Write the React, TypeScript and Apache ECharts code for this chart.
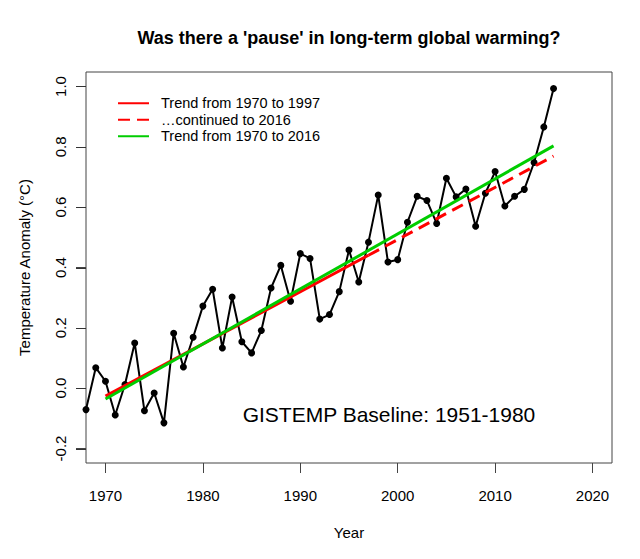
import React, { useEffect, useRef } from "react";
import * as echarts from "echarts";

const years = [
  1968, 1969, 1970, 1971, 1972, 1973, 1974, 1975, 1976, 1977, 1978, 1979,
  1980, 1981, 1982, 1983, 1984, 1985, 1986, 1987, 1988, 1989, 1990, 1991,
  1992, 1993, 1994, 1995, 1996, 1997, 1998, 1999, 2000, 2001, 2002, 2003,
  2004, 2005, 2006, 2007, 2008, 2009, 2010, 2011, 2012, 2013, 2014, 2015, 2016,
];
const anomalies = [
  -0.071, 0.068, 0.023, -0.089, 0.012, 0.15, -0.075, -0.016, -0.115, 0.182, 0.07, 0.169,
  0.272, 0.328, 0.133, 0.302, 0.154, 0.117, 0.191, 0.332, 0.407, 0.288, 0.446, 0.43,
  0.229, 0.244, 0.32, 0.458, 0.352, 0.484, 0.64, 0.418, 0.426, 0.55, 0.636, 0.622,
  0.546, 0.696, 0.634, 0.66, 0.537, 0.646, 0.718, 0.604, 0.636, 0.659, 0.748, 0.866, 0.993,
];
const xTicks = [1970, 1980, 1990, 2000, 2010, 2020];
const yTicks = [-0.2, 0.0, 0.2, 0.4, 0.6, 0.8, 1.0];
const yTickMin = -0.2;
const yTickMax = 1.0;
const yTickStep = 0.2;
const trendNames = ["Trend from 1970 to 1997", "\u2026continued to 2016", "Trend from 1970 to 2016"];
const trendStart = 1970;
const trendBreak = 1997;
const trendEnd = 2016;
const xMin = 1968;
const xMax = 2022;

function fitTrend(from: number, to: number) {
  const xs: number[] = [];
  const ys: number[] = [];
  years.forEach((y, i) => {
    if (y >= from && y <= to) {
      xs.push(y);
      ys.push(anomalies[i]);
    }
  });
  const n = xs.length;
  const mx = xs.reduce((a, b) => a + b, 0) / n;
  const my = ys.reduce((a, b) => a + b, 0) / n;
  let sxy = 0;
  let sxx = 0;
  for (let i = 0; i < n; i++) {
    sxy += (xs[i] - mx) * (ys[i] - my);
    sxx += (xs[i] - mx) * (xs[i] - mx);
  }
  const b = sxy / sxx;
  const a = my - b * mx;
  return (x: number) => a + b * x;
}

const FONT = "'Liberation Sans', Arial, Helvetica, sans-serif";
const AXIS_COLOR = "#444";
const TICK_LEN = 10;

export default function App() {
  const ref = useRef<HTMLDivElement>(null);
  useEffect(() => {
    if (!ref.current) return;
    const chart = echarts.init(ref.current, undefined, { renderer: "svg" });
    const early = fitTrend(trendStart, trendBreak);
    const full = fitTrend(trendStart, trendEnd);

    // R-style 4% extension of the plotted range
    const ext = (yTickMax - yTickMin) * 0.04;
    const yMin = yTickMin - ext;
    const yMax = yTickMax + ext;
    const gTop = 72;
    const gBottom = 96;
    const plotH = 559 - gTop - gBottom;
    const pad = (ext / (yMax - yMin)) * plotH;

    const annotation = {
      type: "text",
      x: 389,
      y: 414,
      style: {
        text: "GISTEMP Baseline: 1951-1980",
        fontSize: 21,
        fontFamily: FONT,
        fill: "#000",
        align: "center",
        verticalAlign: "middle",
      },
    };

    const option = {
      animation: false,
      textStyle: { fontFamily: FONT },
      title: {
        text: "Was there a 'pause' in long-term global warming?",
        left: 349,
        top: 29,
        padding: 0,
        textAlign: "center",
        textStyle: { fontSize: 18, fontWeight: "bold", color: "#000", fontFamily: FONT },
      },
      legend: {
        data: trendNames,
        orient: "vertical",
        left: 117,
        top: 95,
        padding: 0,
        itemGap: 0,
        itemWidth: 31,
        itemHeight: 16.5,
        itemStyle: { opacity: 0 },
        selectedMode: false,
        textStyle: {
          fontSize: 14.5,
          color: "#000",
          fontFamily: FONT,
          lineHeight: 16.5,
          padding: [0, 0, 0, 7],
        },
      },
      grid: [
        {
          left: 86,
          right: 28,
          top: gTop,
          bottom: gBottom,
          show: true,
          borderColor: AXIS_COLOR,
          borderWidth: 1,
          backgroundColor: "transparent",
        },
        {
          left: 86,
          right: 28,
          top: gTop + pad,
          bottom: gBottom + pad,
          show: false,
        },
      ],
      xAxis: [
        {
          type: "value",
          gridIndex: 0,
          min: xMin,
          max: xMax,
          name: "Year",
          nameLocation: "middle",
          nameGap: 62,
          nameTextStyle: { fontSize: 15, color: "#000", fontFamily: FONT },
          axisLine: { show: false, onZero: false },
          splitLine: { show: false },
          axisTick: {
            show: true,
            length: TICK_LEN,
            customValues: xTicks,
            lineStyle: { color: AXIS_COLOR, width: 1 },
          },
          axisLabel: {
            customValues: xTicks,
            margin: 25,
            fontSize: 15,
            color: "#000",
            fontFamily: FONT,
            formatter: (v: number) => String(v),
          },
        },
        {
          type: "value",
          gridIndex: 1,
          min: xMin,
          max: xMax,
          show: false,
        },
      ],
      yAxis: [
        {
          type: "value",
          gridIndex: 0,
          min: yMin,
          max: yMax,
          name: "Temperature Anomaly (\u00b0C)",
          nameLocation: "middle",
          nameGap: 54,
          nameRotate: 90,
          nameTextStyle: { fontSize: 15, color: "#000", fontFamily: FONT },
          axisLine: { show: false, onZero: false },
          splitLine: { show: false },
          axisTick: { show: false },
          axisLabel: { show: false },
        },
        {
          type: "value",
          gridIndex: 1,
          min: yTickMin,
          max: yTickMax,
          interval: yTickStep,
          axisLine: { show: false, onZero: false },
          splitLine: { show: false },
          axisTick: {
            show: true,
            length: TICK_LEN,
            lineStyle: { color: AXIS_COLOR, width: 1 },
          },
          axisLabel: {
            rotate: 90,
            margin: 18,
            fontSize: 15,
            color: "#000",
            fontFamily: FONT,
            formatter: (v: number) => v.toFixed(1),
          },
        },
      ],
      graphic: [annotation],
      series: [
        {
          name: "GISTEMP",
          type: "line",
          xAxisIndex: 0,
          yAxisIndex: 0,
          data: years.map((y, i) => [y, anomalies[i]]),
          symbol: "circle",
          symbolSize: 7,
          showSymbol: true,
          clip: true,
          lineStyle: { color: "#000", width: 2 },
          itemStyle: { color: "#000" },
          z: 2,
        },
        {
          name: trendNames[0],
          type: "line",
          xAxisIndex: 0,
          yAxisIndex: 0,
          data: [
            [trendStart, early(trendStart)],
            [trendBreak, early(trendBreak)],
          ],
          symbol: "none",
          lineStyle: { color: "#ff0000", width: 3 },
          itemStyle: { color: "#ff0000" },
          z: 3,
        },
        {
          name: trendNames[1],
          type: "line",
          xAxisIndex: 0,
          yAxisIndex: 0,
          data: [
            [trendBreak, early(trendBreak)],
            [trendEnd, early(trendEnd)],
          ],
          symbol: "none",
          lineStyle: { color: "#ff0000", width: 3, type: [12, 7] },
          itemStyle: { color: "#ff0000" },
          z: 3,
        },
        {
          name: trendNames[2],
          type: "line",
          xAxisIndex: 0,
          yAxisIndex: 0,
          data: [
            [trendStart, full(trendStart)],
            [trendEnd, full(trendEnd)],
          ],
          symbol: "none",
          lineStyle: { color: "#00cd00", width: 3 },
          itemStyle: { color: "#00cd00" },
          z: 4,
        },
      ],
    };
    chart.setOption(option as any);
    // y-axis tick marks, placed through the chart's own scale, on a top layer
    const tickMarks = yTicks.map((v) => {
      const p = chart.convertToPixel({ gridIndex: 0 }, [xMin, v]) as number[];
      const y = Math.round(p[1]) + 0.5;
      return {
        type: "line",
        zlevel: 1,
        z: 100,
        shape: { x1: p[0] - TICK_LEN, y1: y, x2: p[0], y2: y },
        style: { stroke: "#333", lineWidth: 1 },
      };
    });
    chart.setOption({ graphic: [annotation, ...tickMarks] } as any);
    return () => chart.dispose();
  }, []);
  return (
    <div
      ref={ref}
      style={{ position: "fixed", left: 0, top: 0, width: 640, height: 559, background: "#fff" }}
    />
  );
}
